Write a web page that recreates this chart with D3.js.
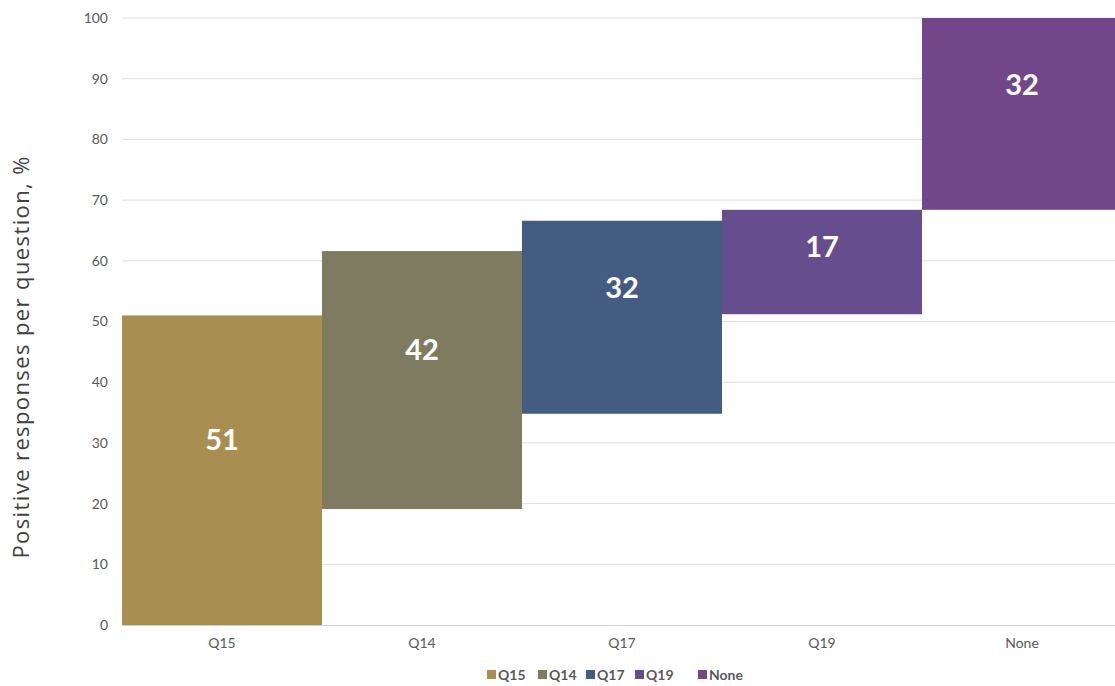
<!DOCTYPE html>
<html>
<head>
<meta charset="utf-8">
<script src="https://cdn.jsdelivr.net/npm/d3@7"></script>
<style>
  body { margin: 0; background: #fff; }
  svg { display: block; font-family: Lato, "Open Sans", sans-serif; }
</style>
</head>
<body>
<script>
// Chart data
const categories = ["Q15", "Q14", "Q17", "Q19", "None"];
const lowValues = [0, 19.1, 34.8, 51.2, 68.4];
const highValues = [51, 61.6, 66.6, 68.4, 100];
const labelValues = [51, 42, 32, 17, 32];
const colors = ["#a88e50", "#7f7b60", "#445b82", "#654d8e", "#72478a"];
const yTicks = [0, 10, 20, 30, 40, 50, 60, 70, 80, 90, 100];

const width = 1115;
const height = 686;
const margin = { top: 18, right: -7, bottom: 61, left: 122 };
const innerW = width - margin.left - margin.right;
const innerH = height - margin.top - margin.bottom;

const svg = d3.select("body")
  .append("svg")
  .attr("width", width)
  .attr("height", height);

const g = svg.append("g")
  .attr("transform", `translate(${margin.left},${margin.top})`);

const x = d3.scaleBand()
  .domain(categories)
  .range([0, innerW])
  .padding(0);

const y = d3.scaleLinear()
  .domain([0, 100])
  .range([innerH, 0]);

// gridlines
g.append("g")
  .selectAll("line")
  .data(yTicks.filter(d => d > 0))
  .join("line")
  .attr("x1", 0)
  .attr("x2", innerW)
  .attr("y1", d => y(d))
  .attr("y2", d => y(d))
  .attr("stroke", "#dedede")
  .attr("stroke-width", 1);

// y axis labels
const yAxis = g.append("g")
  .call(d3.axisLeft(y).tickValues(yTicks).tickSize(0).tickPadding(14));
yAxis.select(".domain").remove();
yAxis.selectAll("text")
  .attr("font-size", 14)
  .attr("fill", "#595959")
  .attr("font-family", "Lato, sans-serif");

// floating bars
const data = categories.map((c, i) => ({
  cat: c, lo: lowValues[i], hi: highValues[i], label: labelValues[i], color: colors[i]
}));

g.append("g")
  .selectAll("rect")
  .data(data)
  .join("rect")
  .attr("x", d => x(d.cat))
  .attr("width", x.bandwidth())
  .attr("y", d => y(d.hi))
  .attr("height", d => y(d.lo) - y(d.hi))
  .attr("fill", d => d.color);

// value labels
g.append("g")
  .selectAll("text")
  .data(data)
  .join("text")
  .attr("x", d => x(d.cat) + x.bandwidth() / 2)
  .attr("y", d => {
    const h = y(d.lo) - y(d.hi);
    return (y(d.lo) + y(d.hi)) / 2 - Math.min(30, h * 0.15);
  })
  .attr("dy", "0.35em")
  .attr("text-anchor", "middle")
  .attr("font-size", 29)
  .attr("font-weight", "bold")
  .attr("fill", "#fff")
  .text(d => d.label);

// x axis baseline + labels
const xAxis = g.append("g")
  .attr("transform", `translate(0,${innerH})`)
  .call(d3.axisBottom(x).tickSize(0).tickPadding(13));
xAxis.select(".domain")
  .attr("stroke", "#cfcfcf");
xAxis.selectAll("text")
  .attr("font-size", 14)
  .attr("fill", "#595959")
  .attr("font-family", "Lato, sans-serif");

// y axis title
svg.append("text")
  .attr("transform", `translate(29,${margin.top + innerH / 2 + 36}) rotate(-90)`)
  .attr("text-anchor", "middle")
  .attr("font-size", 22)
  .attr("font-family", "'Open Sans', sans-serif")
  .attr("textLength", 402)
  .attr("lengthAdjust", "spacing")
  .attr("fill", "#404040")
  .text("Positive responses per question, %");

// legend
const legendX = [487, 538, 586, 635, 698];
const legend = svg.append("g")
  .selectAll("g")
  .data(data)
  .join("g")
  .attr("transform", (d, i) => `translate(${legendX[i]},675)`);

legend.append("rect")
  .attr("x", 0)
  .attr("y", -5)
  .attr("width", 9)
  .attr("height", 9)
  .attr("fill", d => d.color);

legend.append("text")
  .attr("x", 11)
  .attr("dy", "0.35em")
  .attr("font-size", 14)
  .attr("font-weight", "bold")
  .attr("fill", "#595959")
  .text(d => d.cat);
</script>
</body>
</html>
